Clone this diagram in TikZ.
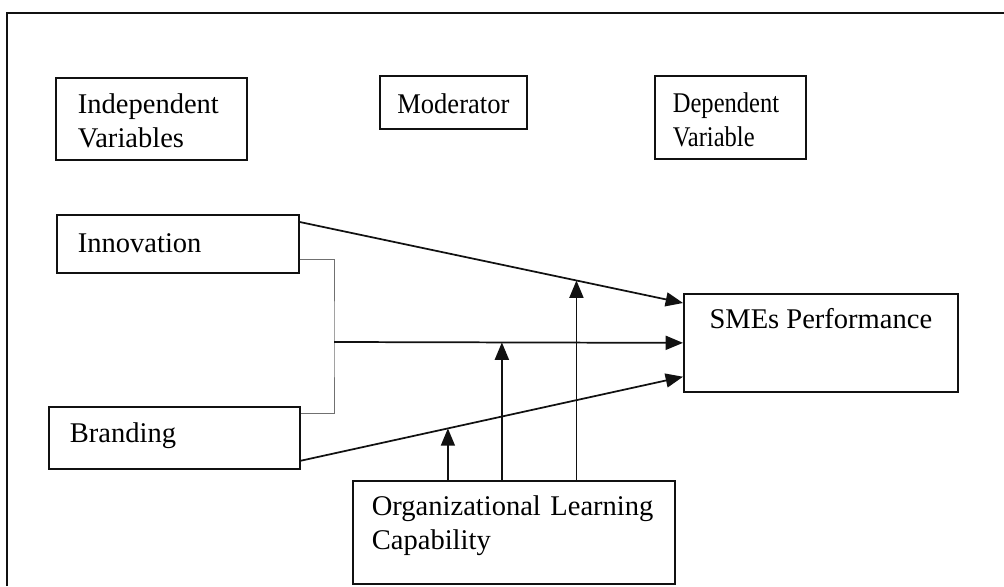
\documentclass[tikz,border=0pt]{standalone}
\usepackage{fontspec}
\setmainfont{Liberation Serif}
\newfontfamily\narrowA[FakeStretch=0.93]{Liberation Serif}
\newfontfamily\narrowB[FakeStretch=0.86]{Liberation Serif}
\usepackage{tikz}
\usetikzlibrary{calc,arrows.meta}
\definecolor{ink}{HTML}{111111}
\definecolor{thin}{HTML}{707070}
\tikzset{
  frame/.style={draw=ink, line width=1.4pt},
  box/.style={draw=ink, line width=1.3pt, inner sep=0pt, anchor=north west,
    font=\fontsize{21.4}{25.5}\selectfont},
  lbox/.style={box, align=left},
  arr/.style={draw=ink, line width=1.3pt, -{Triangle[length=13pt,width=10.5pt]}},
  link/.style={draw=thin, line width=0.7pt}
}

\begin{document}
\begin{tikzpicture}[x=0.75pt,y=-0.75pt]
  \useasboundingbox (0,0) rectangle (1004,586);
  \draw[frame] (7,586) -- (7,13) -- (1004,13);

  % headings
  \node[lbox, inner xsep=16.5pt, text width=110.25pt, text height=27pt, text depth=34.5pt]
    (ind) at (55,77) {Independent\\Variables};
  \node[box, minimum width=110.25pt, text height=28.5pt, text depth=11.25pt]
    (mod) at (379,75) {\narrowA Moderator};
  \node[lbox, inner xsep=13.5pt, text width=86.25pt, text height=27.75pt, text depth=34.5pt]
    (dep) at (654,75) {\narrowB Dependent\\\narrowB Variable};

  % variables
  \node[lbox, inner xsep=15.75pt, text width=150pt, text height=28.5pt, text depth=15pt]
    (inn) at (56,214) {Innovation};
  \node[lbox, inner xsep=15.75pt, text width=156.75pt, text height=27pt, text depth=19.5pt]
    (bra) at (48,406) {Branding};
  \node[box, minimum width=205.5pt, text height=26.25pt, text depth=47.25pt]
    (sme) at (683,293) {SMEs Performance};
  \node[lbox, inner xsep=14.25pt, text width=213pt, text height=26.25pt, text depth=51pt]
    (olc) at (352,480) {Organizational Learning\\Capability};

  % direct paths
  \coordinate (innA) at ($(inn.north east)+(0,8)$);
  \coordinate (smeA) at ($(sme.north west)+(0,10)$);
  \coordinate (braC) at ($(bra.south east)+(0,-9)$);
  \coordinate (smeC) at ($(sme.south west)+(0,-16)$);
  \draw[arr] (innA) -- (smeA) coordinate[pos=0.722] (mA);
  \draw[arr] (braC) -- (smeC) coordinate[pos=0.385] (mC);

  % joint path
  \coordinate (innB) at ($(inn.south east)+(0,-14)$);
  \coordinate (braB) at ($(bra.north east)+(0,7)$);
  \coordinate (jB) at (334,342);
  \draw[link] (innB) -| (jB) |- (braB);
  \draw[arr] (jB) -- (sme.west) coordinate[pos=0.481] (mB);

  % moderation
  \foreach \m in {mA,mB,mC}
    \draw[arr] (olc.north -| \m) -- (\m);
\end{tikzpicture}
\end{document}
